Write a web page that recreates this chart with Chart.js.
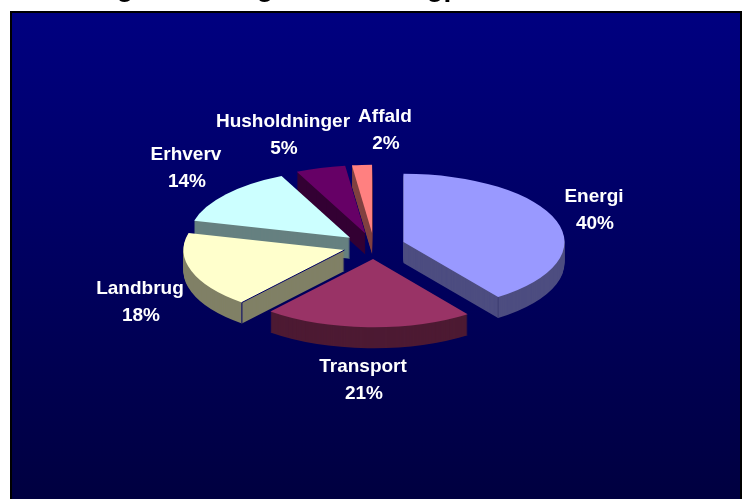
<!DOCTYPE html>
<html>
<head>
<meta charset="utf-8">
<style>
  html, body { margin: 0; padding: 0; background: #fff; overflow: hidden; }
  canvas { display: block; }
</style>
<script src="https://cdn.jsdelivr.net/npm/chart.js@4"></script>
</head>
<body>
<canvas id="pie" width="745" height="499"></canvas>
<script>
const categories = ['Energi', 'Transport', 'Landbrug', 'Erhverv', 'Husholdninger', 'Affald']
const shares = [40, 21, 18, 14, 5, 2]
const topColors = ['#9999ff', '#993366', '#ffffcc', '#ccffff', '#660066', '#ff8080']
const sideColors = ['#4d4d80', '#4d1a33', '#808066', '#668080', '#330033', '#804040']

// label centres, the chart's own layout does not place these
const labelSpots = [[594, 197], [363, 367], [140, 289], [186, 155], [283, 122], [385, 117]]
// only the descenders of the slide title are left in the picture
const titleGlyphs = [['g', 125], ['g', 265], ['g', 435], ['p', 452]]

const squash = 0.423
const depth = 21
const explode = 31
// back to front, so the nearer slices cover the farther ones
const drawOrder = [5, 4, 3, 0, 2, 1]

// screen position of a point on a slice's top face
function topPoint(arc, angle, r) {
  const mid = (arc.startAngle + arc.endAngle) / 2
  return [
    arc.x + Math.cos(mid) * explode + Math.cos(angle) * r,
    arc.y + (Math.sin(mid) * explode + Math.sin(angle) * r) * squash
  ]
}

const tiltedPie = {
  id: 'tiltedPie',
  beforeDraw(chart) {
    const { ctx, width, height } = chart
    ctx.save()
    ctx.fillStyle = '#fff'
    ctx.fillRect(0, 0, width, height)
    ctx.fillStyle = '#000'
    ctx.font = 'bold 28px "Liberation Sans"'
    ctx.textAlign = 'center'
    ctx.textBaseline = 'alphabetic'
    titleGlyphs.forEach(([g, x]) => ctx.fillText(g, x, -4))
    const grad = ctx.createLinearGradient(0, 13, 0, 499)
    grad.addColorStop(0, '#000080')
    grad.addColorStop(1, '#000040')
    ctx.fillStyle = '#000'
    ctx.fillRect(10, 11, 732, 488)
    ctx.fillStyle = grad
    ctx.fillRect(12, 13, 728, 486)
    ctx.restore()
  },
  beforeDatasetsDraw(chart) {
    const { ctx } = chart
    const arcs = chart.getDatasetMeta(0).data
    drawOrder.forEach(i => {
      const arc = arcs[i]
      const mid = (arc.startAngle + arc.endAngle) / 2
      const fill = arc.options.backgroundColor
      for (let d = depth; d >= 0; d--) {
        ctx.save()
        ctx.translate(arc.x, arc.y + d)
        ctx.scale(1, squash)
        ctx.translate(-arc.x, -arc.y)
        ctx.translate(Math.cos(mid) * explode, Math.sin(mid) * explode)
        arc.options.backgroundColor = d ? sideColors[i] : fill
        arc.draw(ctx)
        ctx.restore()
      }
      arc.options.backgroundColor = fill
      // thin edges where the cut face meets the rim
      if (i === 0 || i === 2) {
        const [rx, ry] = topPoint(arc, i === 0 ? arc.endAngle : arc.startAngle, arc.outerRadius)
        ctx.save()
        ctx.strokeStyle = i === 0 ? '#3c3c70' : '#000066'
        ctx.lineWidth = 1
        ctx.beginPath()
        if (i === 2) {
          const [ax, ay] = topPoint(arc, arc.startAngle, 0)
          ctx.moveTo(ax, ay)
          ctx.lineTo(rx, ry)
        } else {
          ctx.moveTo(rx, ry)
        }
        ctx.lineTo(rx, ry + depth)
        ctx.stroke()
        ctx.restore()
      }
    })
    return false
  },
  afterDraw(chart) {
    const { ctx } = chart
    ctx.save()
    ctx.fillStyle = '#fff'
    ctx.font = 'bold 19px "Liberation Sans"'
    ctx.textAlign = 'center'
    ctx.textBaseline = 'middle'
    categories.forEach((name, i) => {
      const [x, y] = labelSpots[i]
      ctx.fillText(name, x, y)
      ctx.fillText(shares[i] + '%', x + 1, y + 27)
    })
    ctx.restore()
  }
}

new Chart(document.getElementById('pie'), {
  type: 'pie',
  data: {
    labels: categories,
    datasets: [{
      data: shares,
      backgroundColor: topColors,
      borderWidth: 0
    }]
  },
  options: {
    responsive: false,
    animation: false,
    // leaves the pie at radius 161 around (374, 246)
    layout: { padding: { left: 213, right: 210, top: 85, bottom: 92 } },
    plugins: {
      legend: { display: false },
      title: { display: false },
      tooltip: { enabled: false }
    }
  },
  plugins: [tiltedPie]
})
</script>
</body>
</html>
